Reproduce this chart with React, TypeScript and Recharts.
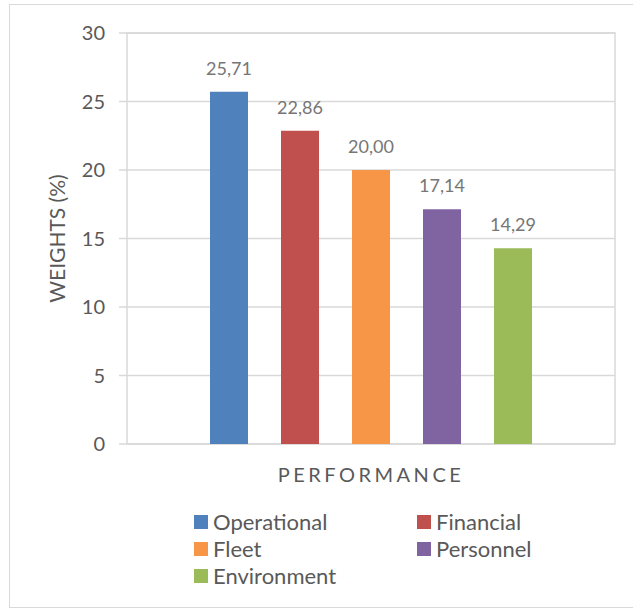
import React from "react";
import {
  BarChart,
  Bar,
  XAxis,
  YAxis,
  CartesianGrid,
  ReferenceArea,
  LabelList,
} from "recharts";

const CATEGORIES = ["PERFORMANCE"];
const SERIES_NAMES = ["Operational", "Financial", "Fleet", "Personnel", "Environment"];
const SERIES_VALUES = [25.71, 22.86, 20.0, 17.14, 14.29];
const SERIES_COLORS = ["#4F81BD", "#C0504D", "#F79646", "#8064A2", "#9BBB59"];
const Y_TICKS = [0, 5, 10, 15, 20, 25, 30];

const data = CATEGORIES.map((name) => {
  const row: Record<string, string | number> = { name };
  SERIES_NAMES.forEach((s, i) => {
    row[s] = SERIES_VALUES[i];
  });
  return row;
});

const FONT = "Lato, 'Open Sans', sans-serif";
const GRID = "#D9D9D9";

const formatValue = (v: any) => Number(v).toFixed(2).replace(".", ",");

// two-column legend under the plot, same order as the series
function ChartLegend() {
  return (
    <div
      style={{
        position: "absolute",
        left: 194,
        top: 508,
        display: "grid",
        gridTemplateColumns: "223px 223px",
        fontFamily: FONT,
        fontSize: 22,
        color: "#595959",
      }}
    >
      {SERIES_NAMES.map((s, i) => (
        <div key={s} style={{ display: "flex", alignItems: "center", height: 27 }}>
          <span
            style={{
              width: 14,
              height: 14,
              background: SERIES_COLORS[i],
              marginRight: 5,
              flex: "none",
            }}
          />
          <span>{s}</span>
        </div>
      ))}
    </div>
  );
}

export default function App() {
  return (
    <div
      style={{
        position: "absolute",
        left: 0,
        top: 0,
        width: 633,
        height: 608,
        background: "#fff",
        overflow: "hidden",
      }}
    >
      <div
        style={{
          position: "absolute",
          left: 9,
          top: 4,
          width: 640,
          height: 602,
          border: `1px solid ${GRID}`,
        }}
      />
      <div style={{ position: "absolute", left: 0, top: 0 }}>
        <BarChart
          width={633}
          height={608}
          data={data}
          margin={{ top: 33, right: 18, left: 0, bottom: 134 }}
          barSize={38}
          barGap={33}
        >
          <CartesianGrid vertical={false} stroke={GRID} strokeWidth={1.5} />
          <ReferenceArea
            y1={0}
            y2={30}
            fill="none"
            stroke={GRID}
            strokeWidth={1.5}
            ifOverflow="visible"
          />
          <XAxis
            dataKey="name"
            height={30}
            axisLine={false}
            tickLine={false}
            tickSize={0}
            tickMargin={24}
            tick={{
              fontFamily: FONT,
              fontSize: 20,
              fill: "#595959",
              letterSpacing: 3.5,
            }}
          />
          <YAxis
            width={127}
            domain={[0, 30]}
            ticks={Y_TICKS}
            interval={0}
            axisLine={false}
            tickSize={8}
            tickMargin={14}
            tickLine={{ stroke: GRID, strokeWidth: 1.5 }}
            tick={{ fontFamily: FONT, fontSize: 20, fill: "#595959" }}
            label={{
              value: "WEIGHTS (%)",
              angle: -90,
              position: "insideLeft",
              offset: 58,
              style: {
                textAnchor: "middle",
                fontFamily: FONT,
                fontSize: 21,
                fill: "#595959",
              },
            }}
          />
          {SERIES_NAMES.map((s, i) => (
            <Bar
              key={s}
              dataKey={s}
              fill={SERIES_COLORS[i]}
              isAnimationActive={false}
            >
              <LabelList
                dataKey={s}
                position="top"
                offset={17}
                formatter={formatValue}
                style={{ fontFamily: FONT, fontSize: 18, fill: "#767676" }}
              />
            </Bar>
          ))}
        </BarChart>
      </div>
      <ChartLegend />
    </div>
  );
}
